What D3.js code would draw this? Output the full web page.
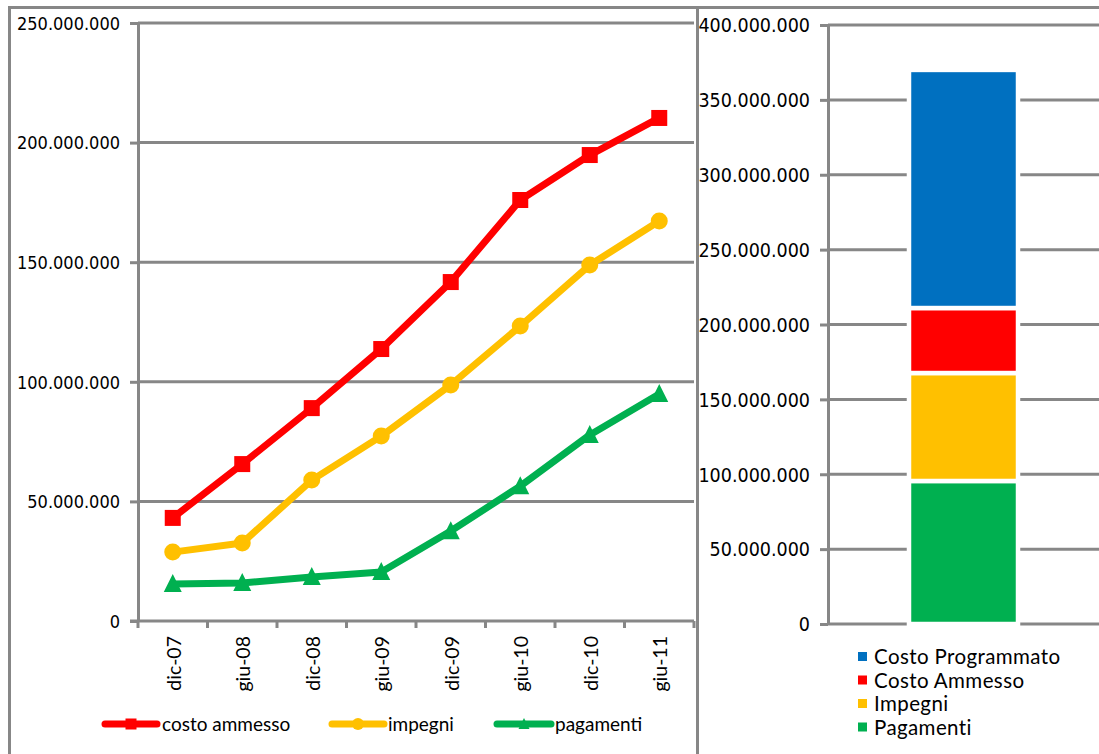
<!DOCTYPE html>
<html>
<head>
<meta charset="utf-8">
<script src="https://cdn.jsdelivr.net/npm/d3@7"></script>
<style>
  html, body { margin: 0; padding: 0; background: #fff; }
  svg { display: block; }
  .num { font-family: "DejaVu Sans Condensed", "DejaVu Sans", sans-serif; font-stretch: condensed; font-size: 18px; fill: #000; }
  .lbl { font-family: Lato, "Open Sans", sans-serif; font-size: 19px; fill: #000; }
</style>
</head>
<body>
<svg id="chart" width="1099" height="754"></svg>
<script>
// ---------- DATA ----------
const categories = ["dic-07", "giu-08", "dic-08", "giu-09", "dic-09", "giu-10", "dic-10", "giu-11"];
const costoAmmesso = [43.1e6, 65.6e6, 89.0e6, 113.7e6, 141.7e6, 176.0e6, 194.8e6, 210.3e6];
const impegni      = [28.8e6, 32.6e6, 58.9e6, 77.3e6, 98.7e6, 123.3e6, 148.8e6, 167.2e6];
const pagamenti    = [15.5e6, 15.9e6, 18.4e6, 20.5e6, 37.6e6, 56.4e6, 77.8e6, 94.9e6];
const lineSeriesNames = ["costo ammesso", "impegni", "pagamenti"];
const leftTicks = [0, 50e6, 100e6, 150e6, 200e6, 250e6];

const barNames  = ["Pagamenti", "Impegni", "Costo Ammesso", "Costo Programmato"];
const barTotals = [95.5e6, 167.6e6, 211.0e6, 370.0e6];   // cumulative levels as read
const rightTicks = [0, 50e6, 100e6, 150e6, 200e6, 250e6, 300e6, 350e6, 400e6];

// ---------- STYLE ----------
const GRID = "#878787";
const colors = { red: "#FF0000", yellow: "#FFC000", green: "#00B050", blue: "#0070C0" };

const svg = d3.select("#chart");
const loc = d3.formatLocale({ decimal: ",", thousands: ".", grouping: [3], currency: ["", ""] });
const fmt = loc.format(",");

// outer frame
const frame = svg.append("g").attr("stroke", GRID).attr("stroke-width", 3).attr("fill", "none");
frame.append("line").attr("x1", 9).attr("x2", 1099).attr("y1", 7.5).attr("y2", 7.5);
frame.append("line").attr("x1", 9.5).attr("x2", 9.5).attr("y1", 6).attr("y2", 754);
frame.append("line").attr("x1", 697.5).attr("x2", 697.5).attr("y1", 6).attr("y2", 754);

// ================= LEFT CHART =================
const L = { left: 138, right: 694, top: 23, bottom: 621 };
const x = d3.scaleBand().domain(categories).range([L.left, L.right]).padding(0);
const y = d3.scaleLinear().domain([0, 250e6]).range([L.bottom, L.top]);

const gL = svg.append("g");
// gridlines
gL.append("g").selectAll("line").data(leftTicks.filter(d => d > 0)).join("line")
  .attr("x1", L.left).attr("x2", L.right)
  .attr("y1", d => y(d)).attr("y2", d => y(d))
  .attr("stroke", GRID).attr("stroke-width", 3);

// y axis
const yAx = gL.append("g").attr("transform", `translate(${L.left},0)`)
  .call(d3.axisLeft(y).tickValues(leftTicks).tickFormat(fmt).tickSize(8).tickSizeOuter(0).tickPadding(10));
yAx.select(".domain").attr("stroke", GRID).attr("stroke-width", 3);
yAx.selectAll(".tick line").attr("stroke", GRID).attr("stroke-width", 3);
yAx.selectAll(".tick text").attr("class", "num").attr("dy", "0.35em");
yAx.attr("font-size", null).attr("font-family", null);

// x axis
const xAxG = gL.append("g");
xAxG.append("line").attr("x1", L.left - 8).attr("x2", L.right).attr("y1", L.bottom).attr("y2", L.bottom)
  .attr("stroke", GRID).attr("stroke-width", 3);
const bounds = categories.map(c => x(c)).concat([x(categories[categories.length - 1]) + x.bandwidth()]);
xAxG.selectAll("line.xt").data(bounds).join("line").attr("class", "xt")
  .attr("x1", d => d).attr("x2", d => d).attr("y1", L.bottom).attr("y2", L.bottom + 7)
  .attr("stroke", GRID).attr("stroke-width", 3);
xAxG.selectAll("text").data(categories).join("text")
  .attr("class", "lbl").style("font-size", "19.5px")
  .attr("transform", d => `translate(${x(d) + x.bandwidth() / 2 + 1},${L.bottom + 15}) rotate(-90)`)
  .attr("text-anchor", "end").attr("dy", "0.35em").text(d => d);

// lines
const cx = d => x(d) + x.bandwidth() / 2;
const lineGen = d3.line().x(d => cx(d.c)).y(d => y(d.v));
const series = [
  { name: lineSeriesNames[0], vals: costoAmmesso, color: colors.red, marker: "square" },
  { name: lineSeriesNames[1], vals: impegni, color: colors.yellow, marker: "circle" },
  { name: lineSeriesNames[2], vals: pagamenti, color: colors.green, marker: "triangle" }
];
function drawMarker(g, type, px, py, color, size) {
  if (type === "square") {
    g.append("rect").attr("x", px - size / 2).attr("y", py - size / 2).attr("width", size).attr("height", size).attr("fill", color);
  } else if (type === "circle") {
    g.append("circle").attr("cx", px).attr("cy", py).attr("r", size / 2).attr("fill", color);
  } else {
    const h = size;
    g.append("path").attr("d", `M${px},${py - h * 0.55} L${px + size / 2},${py + h * 0.45} L${px - size / 2},${py + h * 0.45} Z`).attr("fill", color);
  }
}
series.slice().reverse().forEach(s => {
  const pts = categories.map((c, i) => ({ c, v: s.vals[i] }));
  const g = gL.append("g");
  g.append("path").datum(pts).attr("d", lineGen).attr("fill", "none")
    .attr("stroke", s.color).attr("stroke-width", 7).attr("stroke-linejoin", "round").attr("stroke-linecap", "round");
  pts.forEach(p => drawMarker(g, s.marker, cx(p.c), y(p.v), s.color, s.marker === "circle" ? 17 : (s.marker === "square" ? 16 : 18)));
});

// left legend
const legL = [
  { x0: 105, x1: 157, tx: 162 },
  { x0: 332, x1: 384, tx: 388 },
  { x0: 497, x1: 551, tx: 555 }
];
series.forEach((s, i) => {
  const g = svg.append("g");
  const ly = 724;
  g.append("line").attr("x1", legL[i].x0).attr("x2", legL[i].x1).attr("y1", ly).attr("y2", ly)
    .attr("stroke", s.color).attr("stroke-width", 7).attr("stroke-linecap", "round");
  drawMarker(g, s.marker, (legL[i].x0 + legL[i].x1) / 2, ly, s.color, s.marker === "circle" ? 12 : 11);
  g.append("text").attr("class", "lbl").attr("x", legL[i].tx).attr("y", ly).attr("dy", "0.35em").text(s.name);
});

// ================= RIGHT CHART =================
const R = { left: 828, right: 1099, top: 25, bottom: 624 };
const y2 = d3.scaleLinear().domain([0, 400e6]).range([R.bottom, R.top]);
const xb = d3.scaleBand().domain(["tot"]).range([R.left, R.right]).paddingInner(0).paddingOuter(0.743);
const gR = svg.append("g");

gR.append("g").selectAll("line").data(rightTicks).join("line")
  .attr("x1", R.left).attr("x2", R.right)
  .attr("y1", d => y2(d)).attr("y2", d => y2(d))
  .attr("stroke", GRID).attr("stroke-width", 3);

const yAx2 = gR.append("g").attr("transform", `translate(${R.left},0)`)
  .call(d3.axisLeft(y2).tickValues(rightTicks).tickFormat(fmt).tickSize(8).tickSizeOuter(0).tickPadding(10));
yAx2.select(".domain").attr("stroke", GRID).attr("stroke-width", 3);
yAx2.selectAll(".tick line").attr("stroke", GRID).attr("stroke-width", 3);
yAx2.selectAll(".tick text").attr("class", "num").style("font-size", "19.5px").attr("dy", "0.35em");
yAx2.attr("font-size", null).attr("font-family", null);

// stacked bar segments
const barColors = [colors.green, colors.yellow, colors.red, colors.blue];
const segs = barTotals.map((t, i) => ({ name: barNames[i], lo: i === 0 ? 0 : barTotals[i - 1], hi: t, color: barColors[i] }));
gR.append("g").selectAll("rect").data(segs).join("rect")
  .attr("x", xb("tot")).attr("width", xb.bandwidth())
  .attr("y", d => y2(d.hi)).attr("height", d => y2(d.lo) - y2(d.hi))
  .attr("fill", d => d.color).attr("stroke", "#fff").attr("stroke-width", 4.5);

// right legend
const legOrder = [3, 2, 1, 0];
legOrder.forEach((idx, k) => {
  const ly = 657 + k * 23.5;
  const g = svg.append("g");
  g.append("rect").attr("x", 858).attr("y", ly - 5).attr("width", 9).attr("height", 9).attr("fill", barColors[idx]);
  g.append("text").attr("class", "lbl").attr("x", 874).attr("y", ly).attr("dy", "0.35em")
    .style("font-size", "20.5px").attr("letter-spacing", 0.4).text(barNames[idx]);
});
</script>
</body>
</html>
